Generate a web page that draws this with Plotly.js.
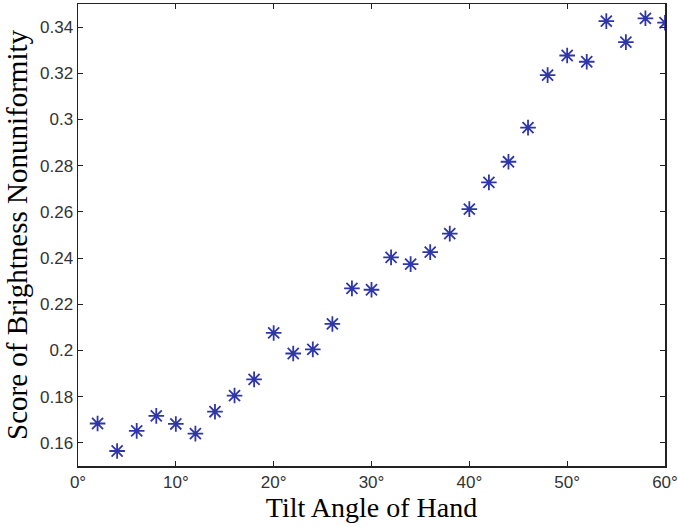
<!DOCTYPE html>
<html>
<head>
<meta charset="utf-8">
<script src="https://cdn.plot.ly/plotly-3.0.1.min.js"></script>
<style>html,body{margin:0;padding:0;background:#fff;}#chart{width:678px;height:527px;}</style>
</head>
<body>
<div id="chart"></div>
<script>
const tiltAngle = [2,4,6,8,10,12,14,16,18,20,22,24,26,28,30,32,34,36,38,40,42,44,46,48,50,52,54,56,58,60];
const score = [0.1684,0.1565,0.1652,0.1717,0.1682,0.1640,0.1735,0.1805,0.1875,0.2076,0.1987,0.2005,0.2115,0.2269,0.2263,0.2403,0.2374,0.2426,0.2506,0.2612,0.2728,0.2817,0.2965,0.3192,0.3277,0.3250,0.3426,0.3335,0.3438,0.3419];
const xTickVals = [0,10,20,30,40,50,60];
const xTickText = ['0°','10°','20°','30°','40°','50°','60°'];
const yTickVals = [0.16,0.18,0.2,0.22,0.24,0.26,0.28,0.3,0.32,0.34];
const yTickText = ['0.16','0.18','0.2','0.22','0.24','0.26','0.28','0.3','0.32','0.34'];

const trace = {
  x: tiltAngle, y: score, type: 'scatter', mode: 'markers',
  marker: {symbol: 'asterisk-open', size: 13, color: '#2e36a8', line: {color: '#2e36a8', width: 1.8}},
  hoverinfo: 'x+y'
};
const axisCommon = {
  showgrid: false, zeroline: false, showline: true, mirror: 'ticks',
  linecolor: '#222', linewidth: 1.5, ticks: 'inside', ticklen: 5, tickcolor: '#222', tickwidth: 1,
  ticklabeloverflow: 'allow', automargin: false,
  tickfont: {family: 'Liberation Sans, Arial, sans-serif', size: 17, color: '#333'}
};
const layout = {
  width: 678, height: 527,
  margin: {l: 78, r: 13, t: 4, b: 61},
  paper_bgcolor: '#fff', plot_bgcolor: '#fff',
  showlegend: false,
  xaxis: Object.assign({}, axisCommon, {
    range: [0, 60], tickmode: 'array', tickvals: xTickVals, ticktext: xTickText,
    title: {text: 'Tilt Angle of Hand', standoff: 4, font: {family: 'Liberation Serif, Times New Roman, serif', size: 28, color: '#000'}}
  }),
  yaxis: Object.assign({}, axisCommon, {
    range: [0.15, 0.35], tickmode: 'array', tickvals: yTickVals, ticktext: yTickText,
    title: {text: 'Score of Brightness Nonuniformity', standoff: 4, font: {family: 'Liberation Serif, Times New Roman, serif', size: 29, color: '#000'}}
  })
};
Plotly.newPlot('chart', [trace], layout, {displayModeBar: false, staticPlot: true});
</script>
</body>
</html>
